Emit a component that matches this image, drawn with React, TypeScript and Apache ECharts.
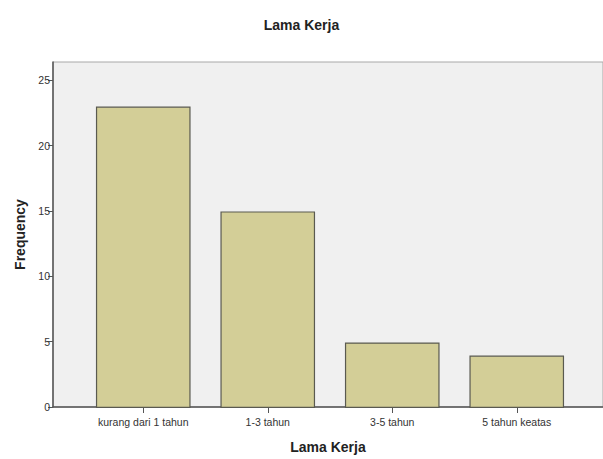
import React, { useEffect, useRef } from "react";
import * as echarts from "echarts";

const categories = ["kurang dari 1 tahun", "1-3 tahun", "3-5 tahun", "5 tahun keatas"];
const frequencies = [23, 15, 5, 4];
const chartTitle = "Lama Kerja";
const xAxisTitle = "Lama Kerja";
const yAxisTitle = "Frequency";

const FONT = "'Liberation Sans', Arial, sans-serif";

export default function App() {
  const ref = useRef<HTMLDivElement>(null);
  useEffect(() => {
    if (!ref.current) return;
    const chart = echarts.init(ref.current, undefined, { renderer: "svg" });
    const yMax = 26.4;
    chart.setOption({
      animation: false,
      backgroundColor: "#ffffff",
      title: {
        text: chartTitle,
        left: "center",
        top: 13,
        textStyle: { fontFamily: FONT, fontSize: 14, fontWeight: "bold", color: "#222" },
      },
      grid: [
        {
          left: 53, right: -2, top: 62, bottom: 51,
          show: true, backgroundColor: "#f0f0f0", borderColor: "#a8a8a8", borderWidth: 1,
        },
        { left: 81, right: 24, top: 62, bottom: 51 },
      ],
      xAxis: [
        {
          gridIndex: 0, type: "value", min: 0, max: 1,
          axisLine: { show: true, lineStyle: { color: "#555", width: 1.5 } },
          axisTick: { show: false }, axisLabel: { show: false }, splitLine: { show: false },
          name: xAxisTitle, nameLocation: "middle", nameGap: 33,
          nameTextStyle: { fontFamily: FONT, fontSize: 14, fontWeight: "bold", color: "#222" },
        },
        {
          gridIndex: 1, type: "category", data: categories,
          axisLine: { show: false },
          axisTick: { show: true, alignWithLabel: true, length: 5, lineStyle: { color: "#555" } },
          axisLabel: { fontFamily: FONT, fontSize: 10.5, color: "#333", margin: 8 },
        },
      ],
      yAxis: [
        {
          gridIndex: 0, type: "value", min: 0, max: yMax, interval: 5,
          axisLine: { show: true, lineStyle: { color: "#555", width: 1.5 } },
          axisTick: { show: true, length: 5, lineStyle: { color: "#555" } },
          axisLabel: {
            fontFamily: FONT, fontSize: 10.5, color: "#333", margin: 3,
            showMaxLabel: false,
          },
          splitLine: { show: false },
          name: yAxisTitle, nameLocation: "middle", nameGap: 25,
          nameTextStyle: { fontFamily: FONT, fontSize: 14, fontWeight: "bold", color: "#222" },
        },
        {
          gridIndex: 1, type: "value", min: 0, max: yMax, show: false,
        },
      ],
      series: [
        {
          type: "bar",
          xAxisIndex: 1,
          yAxisIndex: 1,
          data: frequencies,
          barCategoryGap: "24%",
          itemStyle: { color: "#d3ce97", borderColor: "#5a5a50", borderWidth: 1.2 },
        },
      ],
    });
    return () => chart.dispose();
  }, []);
  return (
    <div
      ref={ref}
      style={{ position: "fixed", left: 0, top: 0, width: 603, height: 459 }}
    />
  );
}
